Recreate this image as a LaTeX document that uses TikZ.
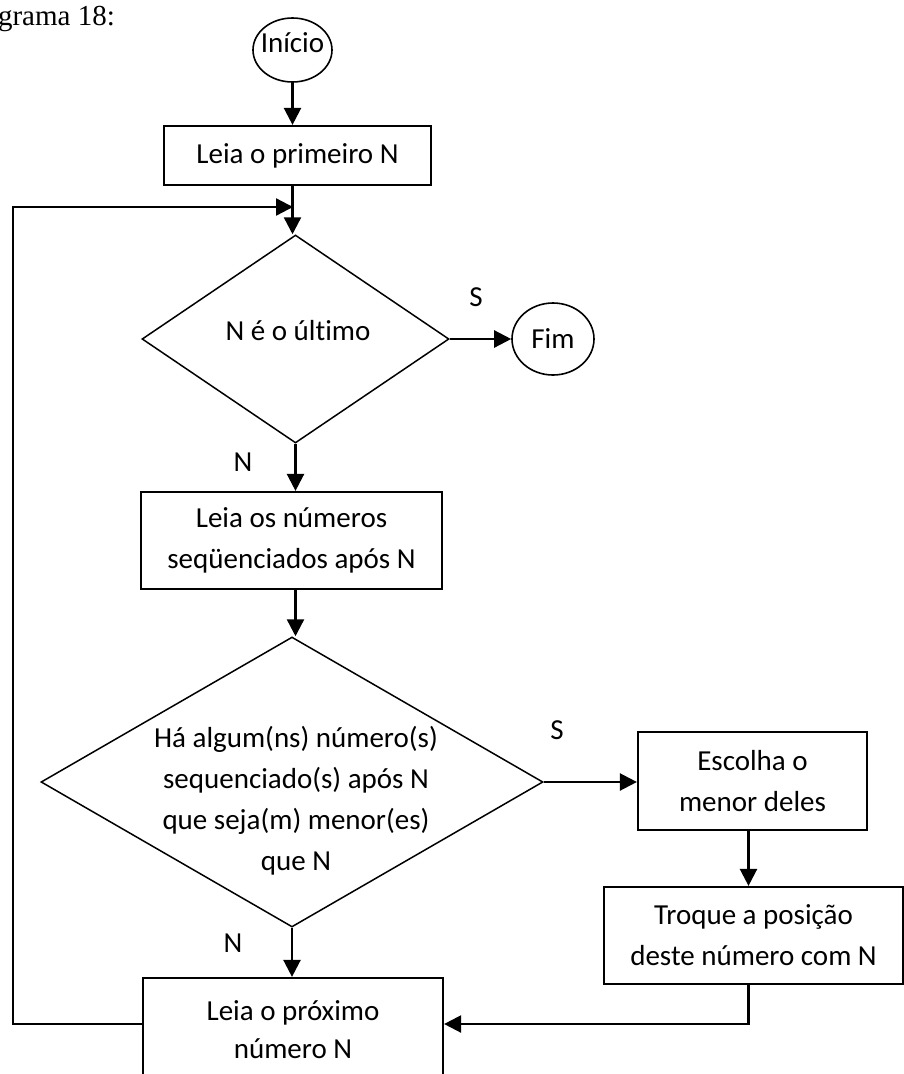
\documentclass[tikz,border=0pt]{standalone}
\usepackage{fontspec}
\setmainfont{Carlito}[Ligatures=NoCommon]
\newfontfamily\captionfont{Liberation Serif}
\usetikzlibrary{shapes.geometric,arrows.meta}

\tikzset{
  every node/.style={font=\fontsize{29}{41}\selectfont, align=center},
  proc/.style={draw, line width=2.2pt, rectangle, inner sep=0pt},
  term/.style={draw, line width=1.6pt, ellipse, inner sep=0pt},
  decision/.style={draw, line width=1.5pt, diamond, inner sep=0pt},
  lbl/.style={inner sep=0pt},
  flow/.style={line width=2.4pt, -{Triangle[length=17pt,width=17pt]}}
}

\begin{document}
\begin{tikzpicture}[x=1pt,y=-1pt]
  \useasboundingbox[fill=white] (0,0) rectangle (904,1074);

  % caption
  \node[lbl, anchor=base east, font=\captionfont\fontsize{29}{34}\selectfont] (cap) at (115,25) {grama 18:};

  % terminals
  \node[term, minimum width=79pt, minimum height=64pt] (inicio) at (292.5,50) {};
  \node[lbl] (inicioT) at (292.5,43) {Início};
  \node[term, minimum width=82pt, minimum height=72pt] (fim) at (553,339) {Fim};

  % process boxes
  \node[proc, minimum width=267pt, minimum height=59pt] (b1) at (297.5,155.5) {Leia o primeiro N};
  \node[proc, minimum width=301pt, minimum height=97pt] (b2) at (291.5,540.5) {Leia os números\\seqüenciados após N};
  \node[proc, minimum width=229pt, minimum height=98pt] (b3) at (752.5,781) {Escolha o\\menor deles};
  \node[proc, minimum width=299pt, minimum height=97pt] (b4) at (753.5,935.5) {Troque a posição\\deste número com N};
  \node[proc, minimum width=300pt, minimum height=104pt] (b5) at (293,1030) {Leia o próximo\\[-3pt]número N};

  % decisions
  \node[decision, minimum width=307pt, minimum height=208pt] (d1) at (295.5,339) {};
  \node[lbl] (d1T) at (298,331) {N é o último};
  \node[decision, minimum width=502pt, minimum height=290pt] (d2) at (292,782) {};
  \node[lbl] (d2T) at (296,801) {Há algum(ns) número(s)\\sequenciado(s) após N\\que seja(m) menor(es)\\que N};

  % branch labels
  \node[lbl] (s1) at (476,297) {S};
  \node[lbl] (n1) at (243,462) {N};
  \node[lbl] (s2) at (557,730) {S};
  \node[lbl] (n2) at (233,943) {N};

  % junction where the loop rejoins
  \coordinate (loopin) at (293,207);

  % connectors
  \draw[flow] (inicio.south) -- (inicio.south |- b1.north);
  \draw[flow] (inicio.south |- b1.south) -- (inicio.south |- d1.north);
  \draw[flow] (d1.east) -- (fim.west);
  \draw[flow] (d1.south) -- (d1.south |- b2.north);
  \draw[flow] (d1.south |- b2.south) -- (d1.south |- d2.north);
  \draw[flow] (d2.east) -- (d2.east -| b3.west);
  \draw[flow] (b3.south -| b4.north) ++(-5,0) coordinate (b3s) -- (b3s |- b4.north);
  \draw[flow] (d2.south) -- (d2.south |- b5.north);
  \draw[flow] ([xshift=-5pt]b4.south) |- ([yshift=6pt]b5.east);
  \draw[flow] ([yshift=6pt]b5.west) -- ++(-129,0) |- (loopin);
\end{tikzpicture}
\end{document}
